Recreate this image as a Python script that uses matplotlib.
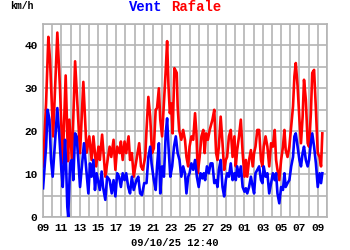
import matplotlib
matplotlib.use("Agg")
import matplotlib.pyplot as plt

# days since 09/09/25 00:00
t_rafale = [0.0, 0.33, 0.58, 0.76, 1.1, 1.56, 1.85, 2.15, 2.47, 2.73, 2.87, 3.16, 3.5, 3.75, 4.04, 4.4,
            4.76, 5.05, 5.3, 5.5, 5.8, 6.05, 6.2, 6.45, 6.6, 6.8, 7.1, 7.27, 7.45, 7.7, 7.9, 8.1, 8.36,
            8.5, 8.7, 8.9, 9.08, 9.34, 9.5, 9.7, 9.9, 10.2, 10.5, 10.7, 10.9, 11.16, 11.3, 11.5, 11.7,
            11.9, 12.1, 12.3, 12.45, 12.65, 12.8, 13.0, 13.2, 13.4, 13.55, 13.7, 13.85, 14.0, 14.15,
            14.35, 14.6, 14.7, 14.86, 15.1, 15.3, 15.5, 15.66, 15.85, 16.0, 16.2, 16.4, 16.6, 16.75,
            16.9, 17.1, 17.3, 17.5, 17.65, 17.8, 18.0, 18.2, 18.5, 18.7, 18.9, 19.05, 19.2, 19.4, 19.6,
            19.78, 19.96, 20.1, 20.3, 20.5, 20.7, 20.9, 21.05, 21.2, 21.4, 21.6, 21.8, 22.0, 22.15,
            22.3, 22.5, 22.7, 22.9, 23.05, 23.2, 23.4, 23.6, 23.8, 23.96, 24.1, 24.3, 24.5, 24.7, 24.9,
            25.1, 25.3, 25.45, 25.6, 25.8, 26.0, 26.2, 26.36, 26.5, 26.7, 26.9, 27.1, 27.3, 27.45,
            27.6, 27.8, 28.0, 28.17, 28.35, 28.5, 28.7, 28.9, 29.05, 29.25, 29.4, 29.6, 29.8, 30.0,
            30.2, 30.36, 30.5]
rafale = [11.8, 26.5, 42, 36.7, 18.8, 43, 30, 12.5, 33, 13, 22.7, 13.3, 36.3, 26.5, 14.9, 31.5,
          15, 18.8, 13.3, 18.8, 11.8, 16.4, 13.3, 19.2, 14.9, 9.4, 14, 16.4, 14, 18, 11, 16.4, 14.9,
          17.6, 13.3, 17.6, 14.9, 18.8, 13.3, 14.9, 9.4, 13.3, 17.2, 11.8, 11, 14, 20.3, 28, 23.4,
          14.9, 16, 25, 25.4, 30, 22.7, 18.8, 26.5, 34.3, 41, 30.5, 24.2, 26.5, 19.5,
          34.7, 33.6, 25.8, 20.3, 18, 20.3, 18, 14, 11.8, 16.4, 18.8, 18, 24.2, 19.5,
          10.2, 14, 18.8, 20.3, 14.9, 19.5, 18, 20.3, 22.7, 25, 14.9, 13.3, 16.4, 23.4, 17.2,
          11, 13.3, 14, 18.8, 20.3, 14, 18.8, 11.8, 15.6, 18.8, 22.7, 14.9, 9.4, 13.3,
          9.4, 13.3, 15.6, 11.8, 14.9, 16.4, 20.3, 20.3, 13.3, 11.8, 16.4, 18.8, 16.4, 11.8, 17.2,
          16.4, 20.3, 13.3, 11, 8.6, 13.3, 16.4, 20.3, 15.6, 14, 16.4, 21.1, 25.8, 32.8,
          35.9, 30.5, 22.7, 17.2, 23.4, 32, 27.3, 17.2, 16.4, 24.2, 33.6, 34.3, 25, 14.9,
          14, 11.8, 19.5]

t_vent = [0.0, 0.33, 0.5, 0.7, 0.87, 1.05, 1.3, 1.56, 1.78, 2.0, 2.15, 2.4, 2.5, 2.65, 2.75, 2.95,
          3.13, 3.3, 3.5, 3.67, 3.85, 4.04, 4.3, 4.47, 4.76, 4.95, 5.13, 5.3, 5.5, 5.67, 5.85, 6.05,
          6.2, 6.4, 6.55, 6.8, 7.0, 7.27, 7.5, 7.7, 7.9, 8.1, 8.3, 8.5, 8.7, 8.9, 9.08, 9.3, 9.5, 9.7,
          9.9, 10.2, 10.4, 10.6, 10.8, 11.05, 11.3, 11.5, 11.7, 11.85, 12.1, 12.3, 12.45, 12.65, 12.8,
          13.0, 13.2, 13.4, 13.55, 13.7, 13.9, 14.1, 14.3, 14.5, 14.7, 14.9, 15.1, 15.3, 15.5, 15.66,
          15.85, 16.0, 16.2, 16.4, 16.6, 16.8, 17.0, 17.2, 17.4, 17.55, 17.7, 17.9, 18.1, 18.3, 18.5,
          18.7, 18.9, 19.05, 19.2, 19.4, 19.6, 19.78, 19.96, 20.1, 20.3, 20.5, 20.7, 20.9, 21.05,
          21.2, 21.4, 21.6, 21.8, 22.0, 22.15, 22.3, 22.5, 22.7, 22.9, 23.05, 23.2, 23.4, 23.6, 23.8,
          23.96, 24.1, 24.3, 24.5, 24.7, 24.9, 25.1, 25.3, 25.45, 25.6, 25.8, 26.0, 26.2, 26.36,
          26.5, 26.7, 26.9, 27.1, 27.3, 27.45, 27.6, 27.8, 28.0, 28.17, 28.35, 28.5, 28.7, 28.9,
          29.05, 29.25, 29.4, 29.6, 29.8, 30.0, 30.2, 30.36, 30.5]
vent = [6.7, 16.4, 25, 22.7, 13.3, 9.4, 17.2, 25.4, 18.8, 11, 7, 18, 13.3, 2.4, 0, 12.5,
        13.3, 8.6, 19.5, 18.8, 13.3, 7, 13.3, 17.2, 10.2, 5.5, 12.5, 9.4, 13.3, 6.3, 10.2, 8,
        6.3, 10.6, 7, 4, 9.4, 8.6, 5.5, 8.6, 4.8, 10.2, 9.4, 7, 10.2, 8.6, 10.2, 7, 5.5, 9.4,
        6.3, 8.6, 9.4, 5.5, 5.1, 7.9, 7.9, 14, 16.4, 12.5, 8.6, 6.3, 11.8, 17.2, 5.5,
        11.8, 9.4, 19.5, 23, 16.4, 9.4, 11.8, 16.4, 18.8, 14.9, 13.3, 9.4, 11.8, 10.2, 5.5,
        9.4, 10.2, 12.5, 11, 13.3, 9.4, 7, 10.2, 9, 10.2, 8.6, 11.8, 10.2, 12.5, 12.5,
        7.9, 8.6, 7, 11, 13.3, 7, 4.8, 8.6, 10.2, 9.4, 12.5, 8.6, 10.2, 8.6,
        11.8, 9.4, 11.8, 7, 5.9, 6.7, 5.5, 7, 9.4, 7, 5.5, 10.2, 11, 11.8, 8.6,
        7.9, 11.8, 9.4, 10.2, 5.5, 7.9, 10.2, 8.6, 10.2, 5.5, 3.2, 7, 6.3, 10.2,
        7, 7.9, 8.6, 11.8, 14, 18.8, 19.5, 16.4, 13.3, 11.8, 14.9, 16.4, 13.3, 11.8,
        13.3, 17.2, 19.5, 16.4, 12.5, 7, 10.2, 7.9, 10.2]

x_ticks = list(range(0, 31, 2))
x_labels = ["09", "11", "13", "15", "17", "19", "21", "23", "25", "27", "29",
            "01", "03", "05", "07", "09"]
y_ticks = [0, 10, 20, 30, 40]

mono = "Liberation Mono"
grid_col = "#b4b4b4"

fig = plt.figure(figsize=(3.5, 2.5), dpi=100)
ax = fig.add_axes([0.123, 0.132, 0.811, 0.772])

ax.plot(t_rafale, rafale, color="#ff0000", lw=1.9, solid_joinstyle="round", zorder=3)
ax.plot(t_vent, vent, color="#0000ff", lw=1.9, solid_joinstyle="round", zorder=4)

ax.set_xlim(0, 31)
ax.set_ylim(0, 45)
ax.set_xticks(range(0, 32), minor=False)
ax.set_xticklabels([x_labels[i // 2] if i % 2 == 0 and i // 2 < len(x_labels) else "" for i in range(32)])
ax.set_yticks(range(0, 46, 5))
ax.set_yticklabels([str(v) if v in y_ticks else "" for v in range(0, 46, 5)])
ax.grid(True, color=grid_col, lw=1.2, zorder=0)
ax.set_axisbelow(True)
ax.tick_params(length=0, pad=4, labelsize=8)
for lab in ax.get_xticklabels() + ax.get_yticklabels():
    lab.set_fontfamily(mono)
    lab.set_fontweight("bold")
for s in ax.spines.values():
    s.set_color(grid_col)
    s.set_linewidth(1.2)

fig.text(146 / 350, 0.972, "Vent", color="#0000ff", fontsize=10, fontweight="bold",
         family=mono, ha="center", va="center")
fig.text(196 / 350, 0.972, "Rafale", color="#ff0000", fontsize=10, fontweight="bold",
         family=mono, ha="center", va="center")
fig.text(10 / 350, 0.976, "km/h", fontsize=7, fontweight="bold", family=mono,
         ha="left", va="center")
fig.text(0.5, 0.026, "09/10/25 12:40", fontsize=7.5, family=mono, fontweight="bold",
         ha="center", va="center")

fig.savefig("out.png", dpi=100)
